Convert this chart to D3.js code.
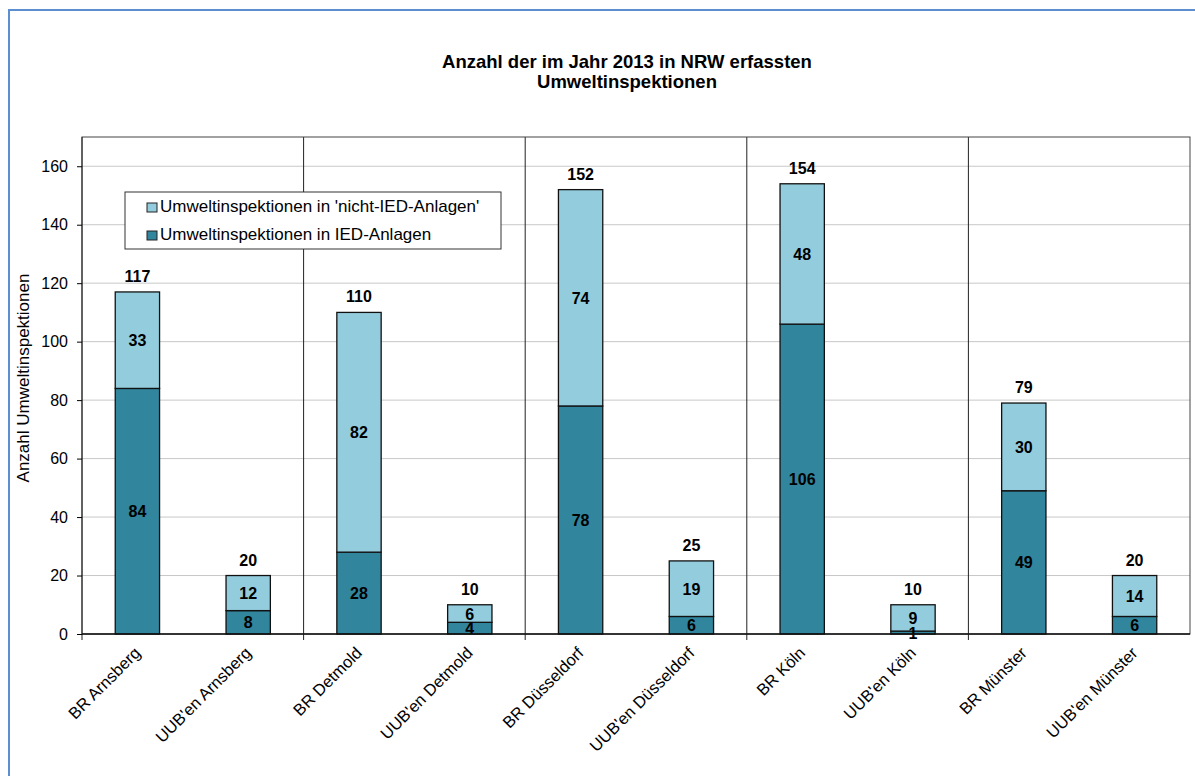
<!DOCTYPE html>
<html>
<head>
<meta charset="utf-8">
<script src="https://cdn.jsdelivr.net/npm/d3@7"></script>
<style>
  body { margin: 0; background: #fff; }
  text { font-family: "Liberation Sans", Arial, sans-serif; }
</style>
</head>
<body>
<script>
// values
let categories = ["BR Arnsberg", "UUB'en Arnsberg", "BR Detmold", "UUB'en Detmold",
                  "BR Düsseldorf", "UUB'en Düsseldorf", "BR Köln", "UUB'en Köln",
                  "BR Münster", "UUB'en Münster"];
let iedValues = [84, 8, 28, 4, 78, 6, 106, 1, 49, 6];
let nonIedValues = [33, 12, 82, 6, 74, 19, 48, 9, 30, 14];
let yTicks = [0, 20, 40, 60, 80, 100, 120, 140, 160];
let seriesNames = ["Umweltinspektionen in 'nicht-IED-Anlagen'", "Umweltinspektionen in IED-Anlagen"];

let darkColor = "#31859c";
let lightColor = "#93cddd";

let W = 1195, H = 776;
let plotLeft = 82, plotRight = 1190, plotTop = 137, plotBottom = 634;

let viz = d3.select("body").append("svg")
    .attr("width", W)
    .attr("height", H);

// outer frame
viz.append("rect")
    .attr("x", 9).attr("y", 10)
    .attr("width", 1200).attr("height", 780)
    .attr("fill", "none")
    .attr("stroke", "#5b8fd0")
    .attr("stroke-width", 2);

// title
let title = viz.append("text")
    .attr("x", 627).attr("y", 68)
    .attr("text-anchor", "middle")
    .attr("font-size", 18.5)
    .attr("font-weight", "bold");
title.append("tspan").attr("x", 627).attr("dy", 0).text("Anzahl der im Jahr 2013 in NRW erfassten");
title.append("tspan").attr("x", 627).attr("dy", 19.5).text("Umweltinspektionen");

let data = categories.map(function(c, i){
  return {cat: c, ied: iedValues[i], non: nonIedValues[i], total: iedValues[i] + nonIedValues[i]};
});

let x = d3.scaleBand().domain(categories).range([plotLeft, plotRight]).paddingInner(0.6).paddingOuter(0.3);
let y = d3.scaleLinear().domain([0, 170]).range([plotBottom, plotTop]);

// gridlines
viz.append("g").selectAll("line").data(yTicks.slice(1))
  .enter().append("line")
    .attr("x1", plotLeft).attr("x2", plotRight)
    .attr("y1", function(d){ return y(d); })
    .attr("y2", function(d){ return y(d); })
    .attr("stroke", "#c8c8c8")
    .attr("stroke-width", 1);

// group separators
let step = (plotRight - plotLeft) / categories.length;
let seps = [2, 4, 6, 8];
viz.append("g").selectAll("line").data(seps)
  .enter().append("line")
    .attr("x1", function(d){ return plotLeft + d * step; })
    .attr("x2", function(d){ return plotLeft + d * step; })
    .attr("y1", plotTop).attr("y2", plotBottom + 6)
    .attr("stroke", "#222")
    .attr("stroke-width", 1);

// plot frame
viz.append("rect")
    .attr("x", plotLeft).attr("y", plotTop)
    .attr("width", plotRight - plotLeft).attr("height", plotBottom - plotTop)
    .attr("fill", "none")
    .attr("stroke", "#444")
    .attr("stroke-width", 1);

// y axis
let yAxis = viz.append("g")
    .attr("transform", "translate(" + plotLeft + ",0)")
    .call(d3.axisLeft(y).tickValues(yTicks).tickSize(5).tickPadding(9));
yAxis.select(".domain").attr("stroke", "#222").attr("d", "M0," + plotTop + "V" + (plotBottom + 6));
yAxis.selectAll("text").attr("font-size", 16).attr("fill", "#000")
    .attr("font-family", "Liberation Sans, Arial, sans-serif");

viz.append("text")
    .attr("transform", "translate(29,378) rotate(-90)")
    .attr("text-anchor", "middle")
    .attr("font-size", 17)
    .text("Anzahl Umweltinspektionen");

// bars
let bars = viz.selectAll(".bar").data(data).enter().append("g").attr("class", "bar");

bars.append("rect")
    .attr("x", function(d){ return x(d.cat); })
    .attr("width", x.bandwidth())
    .attr("y", function(d){ return y(d.ied); })
    .attr("height", function(d){ return y(0) - y(d.ied); })
    .attr("fill", darkColor)
    .attr("stroke", "#111").attr("stroke-width", 1.3);

bars.append("rect")
    .attr("x", function(d){ return x(d.cat); })
    .attr("width", x.bandwidth())
    .attr("y", function(d){ return y(d.total); })
    .attr("height", function(d){ return y(d.ied) - y(d.total); })
    .attr("fill", lightColor)
    .attr("stroke", "#111").attr("stroke-width", 1.3);

// x axis line
viz.append("line")
    .attr("x1", plotLeft).attr("x2", plotRight)
    .attr("y1", plotBottom).attr("y2", plotBottom)
    .attr("stroke", "#111").attr("stroke-width", 1.3);

// segment labels
bars.append("text")
    .attr("x", function(d){ return x(d.cat) + x.bandwidth() / 2; })
    .attr("y", function(d){ return (y(0) + y(d.ied)) / 2 + 6; })
    .attr("text-anchor", "middle")
    .attr("font-size", 16).attr("font-weight", "bold")
    .text(function(d){ return d.ied; });

bars.append("text")
    .attr("x", function(d){ return x(d.cat) + x.bandwidth() / 2; })
    .attr("y", function(d){ return (y(d.ied) + y(d.total)) / 2 + 6; })
    .attr("text-anchor", "middle")
    .attr("font-size", 16).attr("font-weight", "bold")
    .text(function(d){ return d.non; });

bars.append("text")
    .attr("x", function(d){ return x(d.cat) + x.bandwidth() / 2; })
    .attr("y", function(d){ return y(d.total) - 10; })
    .attr("text-anchor", "middle")
    .attr("font-size", 16).attr("font-weight", "bold")
    .text(function(d){ return d.total; });

// category labels
viz.selectAll(".catlabel").data(categories).enter().append("text")
    .attr("class", "catlabel")
    .attr("transform", function(d){
      return "translate(" + (x(d) + x.bandwidth() / 2 + 4) + "," + (plotBottom + 20) + ") rotate(-45)";
    })
    .attr("text-anchor", "end")
    .attr("font-size", 16.5)
    .text(function(d){ return d; });

// legend
let legend = viz.append("g");
legend.append("rect")
    .attr("x", 125).attr("y", 192)
    .attr("width", 376).attr("height", 57)
    .attr("fill", "#fff")
    .attr("stroke", "#333").attr("stroke-width", 1);
let legColors = [lightColor, darkColor];
seriesNames.forEach(function(name, i){
  legend.append("rect")
      .attr("x", 147).attr("y", 203 + i * 28)
      .attr("width", 10).attr("height", 9)
      .attr("fill", legColors[i])
      .attr("stroke", "#222").attr("stroke-width", 1);
  legend.append("text")
      .attr("x", 160).attr("y", 212 + i * 28)
      .attr("font-size", 17)
      .text(name);
});
</script>
</body>
</html>
